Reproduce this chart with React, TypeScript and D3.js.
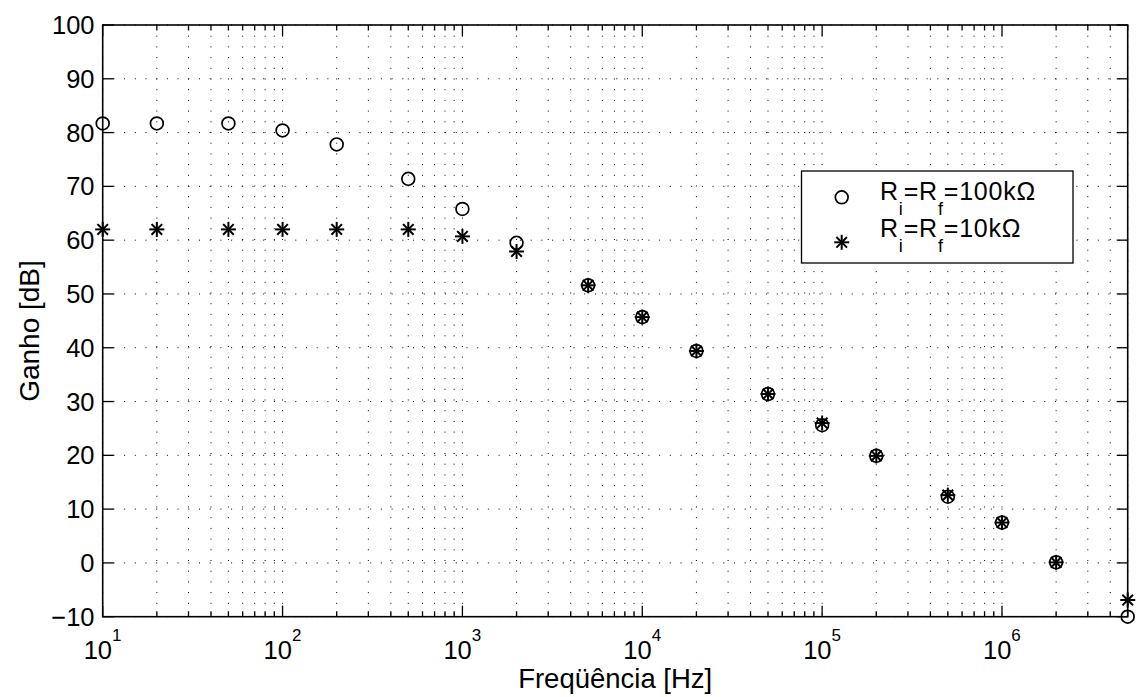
import React from "react";
import * as d3 from "d3";

const freqs = [10, 20, 50, 100, 200, 500, 1e3, 2e3, 5e3, 1e4, 2e4, 5e4, 1e5, 2e5, 5e5, 1e6, 2e6, 5e6];
const gain100k = [81.7, 81.7, 81.7, 80.4, 77.8, 71.4, 65.8, 59.5, 51.6, 45.7, 39.4, 31.4, 25.6, 19.9, 12.3, 7.5, 0.1, -10];
const gain10k = [62, 62, 62, 62, 62, 62, 60.7, 57.9, 51.6, 45.7, 39.4, 31.4, 26, 19.9, 12.6, 7.5, 0.1, -6.9];
const yTicks = [-10, 0, 10, 20, 30, 40, 50, 60, 70, 80, 90, 100];
const xDecades = [1, 2, 3, 4, 5, 6];
const legendLabels = [
  { main: "R", sub1: "i", mid: "=R", sub2: "f", rest: "=100kΩ" },
  { main: "R", sub1: "i", mid: "=R", sub2: "f", rest: "=10kΩ" },
];

const W = 1136, H = 697;
const L = 102.7, R = 1127.7, T = 25, B = 616.7;
const FONT = "'Liberation Sans', Arial, Helvetica, sans-serif";

function Star({ cx, cy, s = 6.5 }: { cx: number; cy: number; s?: number }) {
  const d = s * Math.SQRT1_2;
  return (
    <g stroke="#000" strokeWidth={2} strokeLinecap="square">
      <line x1={cx - s} y1={cy} x2={cx + s} y2={cy} />
      <line x1={cx} y1={cy - s} x2={cx} y2={cy + s} />
      <line x1={cx - d} y1={cy - d} x2={cx + d} y2={cy + d} />
      <line x1={cx - d} y1={cy + d} x2={cx + d} y2={cy - d} />
    </g>
  );
}

export default function App() {
  const x = d3.scaleLog().domain([10, 5e6]).range([L, R]);
  const y = d3.scaleLinear().domain([-10, 100]).range([B, T]);

  const minors: number[] = [];
  const majors: number[] = [];
  for (let e = 1; e <= 6; e++) {
    majors.push(Math.pow(10, e));
    for (let m = 2; m <= 9; m++) {
      const v = m * Math.pow(10, e);
      if (v <= 5e6) minors.push(v);
    }
  }
  const dash = "1 9.7";
  const majLen = 11, minLen = 5.5;

  return (
    <svg width={W} height={H} style={{ position: "absolute", left: 0, top: 0, background: "#fff" }} fontFamily={FONT}>
      <rect x={0} y={0} width={W} height={H} fill="#fff" />
      {/* grid */}
      <g stroke="#000" strokeWidth={1} strokeDasharray={dash}>
        {[...majors, ...minors].map((v, i) => (
          <line key={"gx" + i} x1={x(v)} x2={x(v)} y1={T} y2={B} />
        ))}
        {yTicks.map((v, i) => (
          <line key={"gy" + i} x1={L} x2={R} y1={y(v)} y2={y(v)} />
        ))}
      </g>
      {/* ticks */}
      <g stroke="#000" strokeWidth={1.3}>
        {majors.map((v, i) => (
          <g key={"mt" + i}>
            <line x1={x(v)} x2={x(v)} y1={B} y2={B - majLen} />
            <line x1={x(v)} x2={x(v)} y1={T} y2={T + majLen} />
          </g>
        ))}
        {minors.map((v, i) => (
          <g key={"nt" + i}>
            <line x1={x(v)} x2={x(v)} y1={B} y2={B - minLen} />
            <line x1={x(v)} x2={x(v)} y1={T} y2={T + minLen} />
          </g>
        ))}
        {yTicks.map((v, i) => (
          <g key={"yt" + i}>
            <line x1={L} x2={L + majLen} y1={y(v)} y2={y(v)} />
            <line x1={R} x2={R - majLen} y1={y(v)} y2={y(v)} />
          </g>
        ))}
      </g>
      {/* axes box */}
      <rect x={L} y={T} width={R - L} height={B - T} fill="none" stroke="#000" strokeWidth={1.6} />
      {/* y tick labels */}
      <g fontSize={25.5} textAnchor="end" fill="#000">
        {yTicks.map((v, i) => (
          <text key={"yl" + i} x={94.5} y={y(v) + 9}>
            {v < 0 ? "\u2212" + Math.abs(v) : String(v)}
          </text>
        ))}
      </g>
      {/* x tick labels */}
      <g fill="#000">
        {xDecades.map((e, i) => (
          <text key={"xl" + i} x={x(Math.pow(10, e)) - 19} y={658.5} fontSize={25.5}>
            10
            <tspan fontSize={17} dy={-18}>{e}</tspan>
          </text>
        ))}
      </g>
      {/* axis labels */}
      <text x={(L + R) / 2} y={688} fontSize={27.5} textAnchor="middle" fill="#000">
        Freqüência [Hz]
      </text>
      <text
        transform={`translate(39, 331) rotate(-90)`}
        fontSize={28}
        textAnchor="middle"
        fill="#000"
      >
        Ganho [dB]
      </text>
      {/* data */}
      <g fill="none" stroke="#000" strokeWidth={1.7}>
        {freqs.map((f, i) => (
          <circle key={"c" + i} cx={x(f)} cy={y(gain100k[i])} r={6.4} />
        ))}
      </g>
      {freqs.map((f, i) => (
        <Star key={"s" + i} cx={x(f)} cy={y(gain10k[i])} />
      ))}
      {/* legend */}
      <rect x={801.5} y={171} width={271.5} height={92} fill="#fff" stroke="#000" strokeWidth={1.3} />
      <circle cx={841.7} cy={197.3} r={6.4} fill="none" stroke="#000" strokeWidth={1.7} />
      <Star cx={841.7} cy={242.3} />
      {legendLabels.map((lb, i) => (
        <text key={"lg" + i} x={880} y={200 + i * 36.7} fontSize={25} fill="#000" letterSpacing={0.8}>
          {lb.main}
          <tspan fontSize={18} dy={15}>{lb.sub1}</tspan>
          <tspan fontSize={25} dy={-15}>{lb.mid}</tspan>
          <tspan fontSize={18} dy={15}>{lb.sub2}</tspan>
          <tspan fontSize={25} dy={-15}>{lb.rest}</tspan>
        </text>
      ))}
    </svg>
  );
}
